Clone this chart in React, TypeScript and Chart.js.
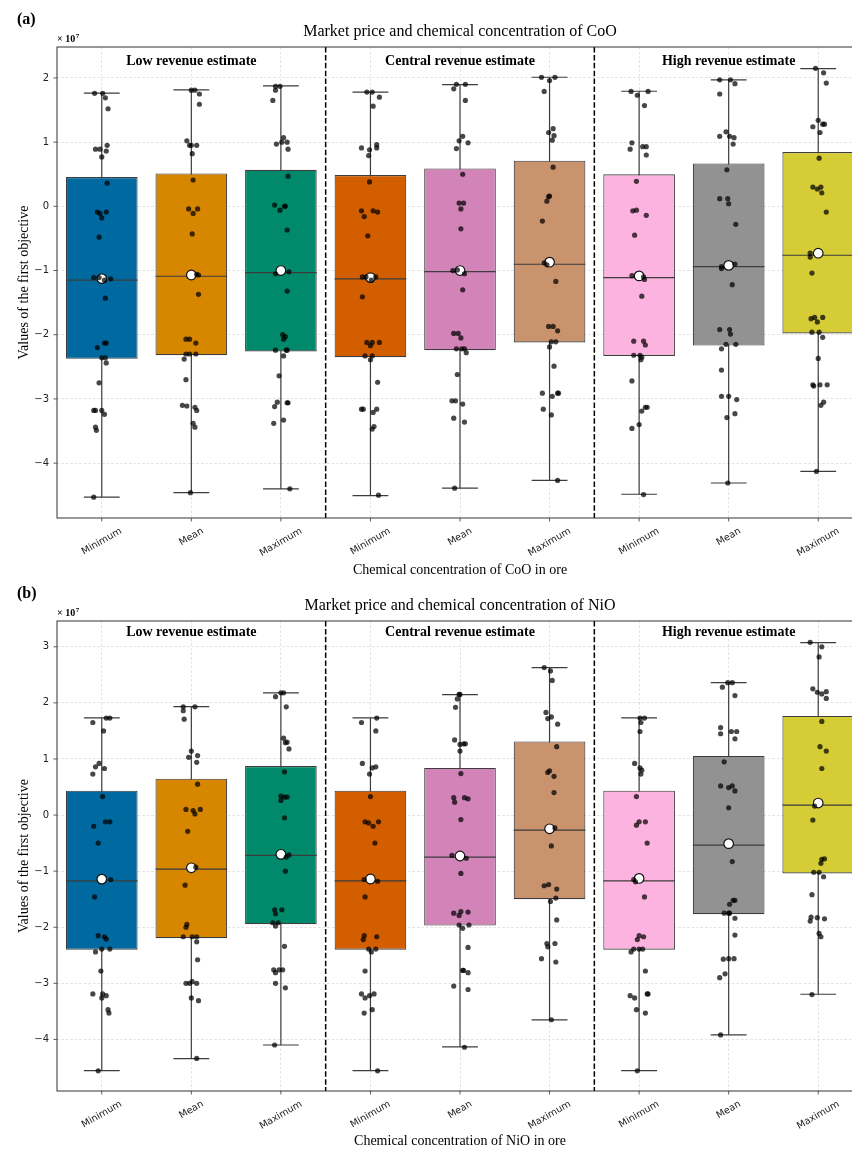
import React, { useEffect, useRef } from 'react';
import { Chart, registerables } from 'chart.js';

Chart.register(...registerables);

// ---------- shared ----------
const CATEGORIES = ['Minimum', 'Mean', 'Maximum', 'Minimum', 'Mean', 'Maximum', 'Minimum', 'Mean', 'Maximum'];
const GROUP_LABELS = ['Low revenue estimate', 'Central revenue estimate', 'High revenue estimate'];
const GROUP_CENTERS = [1, 4, 7];
const GROUP_SEPARATORS = [2.5, 5.5];
const BOX_COLORS = ['#00699F', '#D78600', '#00896A', '#D35E00', '#D283B8', '#C9936E', '#FDB3DF', '#929292', '#D5CC36'];

// ---------- panel (a): CoO ----------
const COO_TITLE = 'Market price and chemical concentration of CoO';
const COO_XLABEL = 'Chemical concentration of CoO in ore';
const COO_Y_TICKS = [-4, -3, -2, -1, 0, 1, 2];
const COO_Y_RANGE = [-4.855, 2.482];
const COO_GROUP_LABEL_Y = 2.26;
const COO_WHISKER_LOW = [-4.53, -4.46, -4.40, -4.505, -4.39, -4.27, -4.485, -4.31, -4.13];
const COO_Q1 = [-2.375, -2.318, -2.26, -2.35, -2.24, -2.12, -2.33, -2.168, -1.98];
const COO_MEDIAN = [-1.151, -1.089, -1.033, -1.131, -1.017, -0.902, -1.11, -0.939, -0.762];
const COO_MEAN = [-1.126, -1.07, -1.0, -1.11, -1.0, -0.87, -1.084, -0.92, -0.73];
const COO_Q3 = [0.456, 0.513, 0.569, 0.487, 0.59, 0.71, 0.498, 0.669, 0.845];
const COO_WHISKER_HIGH = [1.762, 1.813, 1.876, 1.778, 1.897, 2.011, 1.793, 1.969, 2.146];

// points: [jitter (category units), value (x 1e7)]
const COO_LOW_MIN = [[-0.08,1.76],[0.01,1.76],[0.04,1.69],[0.07,1.52],[-0.07,0.89],[-0.02,0.89],[0.06,0.95],[0.05,0.86],[0.0,0.77],[0.06,0.36],[-0.05,-0.09],[-0.02,-0.11],[0.05,-0.09],[0.0,-0.18],[-0.03,-0.48],[-0.09,-1.11],[-0.03,-1.11],[0.1,-1.13],[0.03,-1.15],[0.04,-1.43],[-0.05,-2.2],[0.03,-2.13],[0.05,-2.13],[0.0,-2.36],[0.04,-2.36],[0.05,-2.44],[-0.03,-2.75],[-0.09,-3.18],[-0.07,-3.18],[0.0,-3.18],[0.03,-3.24],[-0.07,-3.44],[-0.06,-3.49],[-0.09,-4.53]];
const COO_LOW_MEAN = [[0.0,1.81],[0.04,1.81],[0.09,1.75],[0.09,1.59],[-0.05,1.02],[-0.02,0.95],[0.0,0.95],[0.06,0.95],[0.01,0.82],[0.02,0.41],[-0.03,-0.04],[0.07,-0.04],[0.02,-0.11],[0.01,-0.43],[0.06,-1.06],[0.08,-1.07],[0.08,-1.37],[-0.06,-2.07],[-0.02,-2.07],[0.05,-2.13],[-0.06,-2.3],[-0.02,-2.3],[0.05,-2.3],[-0.08,-2.38],[-0.06,-2.7],[-0.1,-3.1],[-0.05,-3.11],[0.04,-3.13],[0.06,-3.18],[0.02,-3.38],[0.04,-3.44],[-0.01,-4.46]];
const COO_LOW_MAX = [[-0.06,1.87],[-0.01,1.87],[-0.06,1.81],[-0.09,1.65],[-0.05,0.97],[0.03,1.07],[0.01,1.0],[0.07,1.0],[0.08,0.89],[0.08,0.47],[-0.07,0.02],[0.04,0.0],[0.05,0.0],[-0.01,-0.06],[0.07,-0.37],[-0.06,-1.05],[0.09,-1.02],[0.07,-1.32],[0.02,-2.0],[0.05,-2.03],[0.03,-2.07],[-0.06,-2.24],[0.06,-2.24],[0.07,-2.24],[0.03,-2.33],[-0.02,-2.64],[-0.04,-3.05],[-0.07,-3.12],[0.07,-3.06],[0.08,-3.06],[-0.08,-3.38],[0.03,-3.33],[0.1,-4.4]];
const COO_CENTRAL_MIN = [[-0.04,1.78],[0.02,1.78],[0.1,1.7],[0.03,1.56],[-0.1,0.91],[0.07,0.96],[0.07,0.91],[-0.01,0.88],[-0.02,0.79],[-0.01,0.38],[-0.1,-0.07],[0.03,-0.07],[0.08,-0.09],[-0.07,-0.16],[-0.03,-0.46],[-0.09,-1.1],[-0.05,-1.1],[0.06,-1.1],[0.01,-1.15],[-0.09,-1.41],[-0.04,-2.12],[0.02,-2.12],[0.1,-2.12],[0.0,-2.17],[-0.06,-2.33],[0.02,-2.33],[0.0,-2.39],[0.08,-2.74],[-0.1,-3.16],[-0.08,-3.16],[0.07,-3.16],[0.03,-3.21],[0.04,-3.43],[0.02,-3.47],[0.09,-4.5]];
const COO_CENTRAL_MEAN = [[-0.04,1.9],[0.06,1.9],[-0.07,1.83],[0.06,1.65],[0.03,1.09],[-0.01,1.02],[0.09,0.99],[-0.04,0.9],[0.03,0.5],[-0.01,0.05],[0.04,0.05],[0.01,-0.04],[0.01,-0.35],[-0.08,-1.0],[-0.03,-0.99],[0.05,-1.05],[0.03,-1.3],[-0.07,-1.98],[-0.02,-1.98],[0.01,-2.05],[-0.04,-2.22],[0.02,-2.22],[0.05,-2.22],[0.07,-2.28],[-0.03,-2.62],[-0.09,-3.03],[-0.05,-3.03],[0.03,-3.08],[-0.07,-3.3],[0.05,-3.36],[-0.06,-4.39]];
const COO_CENTRAL_MAX = [[-0.09,2.01],[0.06,2.01],[0.0,1.96],[-0.06,1.79],[0.04,1.21],[-0.01,1.15],[0.05,1.1],[0.03,1.03],[0.04,0.61],[0.0,0.16],[-0.01,0.15],[-0.03,0.08],[-0.08,-0.23],[-0.03,-0.91],[-0.06,-0.88],[0.07,-1.17],[-0.01,-1.87],[0.04,-1.87],[0.09,-1.94],[0.02,-2.11],[0.07,-2.11],[0.0,-2.19],[0.05,-2.49],[-0.08,-2.91],[0.03,-2.96],[0.09,-2.91],[0.1,-2.91],[-0.07,-3.16],[0.02,-3.25],[0.09,-4.27]];
const COO_HIGH_MIN = [[-0.09,1.79],[0.1,1.79],[-0.02,1.73],[0.06,1.57],[-0.08,0.99],[-0.1,0.89],[0.04,0.93],[0.08,0.93],[0.08,0.8],[-0.03,0.39],[-0.07,-0.07],[-0.03,-0.06],[0.08,-0.14],[-0.05,-0.45],[-0.08,-1.08],[0.05,-1.1],[0.06,-1.14],[0.03,-1.4],[-0.06,-2.1],[0.05,-2.1],[0.07,-2.16],[-0.06,-2.32],[0.01,-2.32],[0.03,-2.35],[0.02,-2.39],[-0.08,-2.72],[0.03,-3.19],[0.07,-3.13],[0.09,-3.13],[0.0,-3.4],[-0.08,-3.46],[0.05,-4.49]];
const COO_HIGH_MEAN = [[-0.1,1.97],[0.02,1.97],[0.07,1.91],[-0.1,1.75],[-0.03,1.16],[-0.1,1.09],[0.01,1.09],[0.06,1.07],[0.05,0.97],[-0.02,0.57],[-0.1,0.12],[-0.01,0.12],[0.0,0.04],[0.08,-0.28],[-0.08,-0.94],[-0.08,-0.97],[0.07,-0.9],[0.04,-1.22],[-0.1,-1.92],[0.01,-1.92],[0.02,-1.99],[-0.03,-2.15],[0.08,-2.15],[-0.08,-2.22],[-0.08,-2.55],[-0.08,-2.96],[0.0,-2.96],[0.09,-3.01],[-0.02,-3.29],[0.07,-3.23],[-0.01,-4.31]];
const COO_HIGH_MAX = [[-0.03,2.15],[0.06,2.08],[0.09,1.92],[0.0,1.34],[-0.06,1.24],[0.05,1.28],[0.07,1.28],[0.02,1.15],[0.01,0.75],[-0.06,0.3],[-0.01,0.27],[0.03,0.3],[0.04,0.21],[0.09,-0.09],[-0.09,-0.73],[-0.09,-0.79],[-0.07,-1.04],[-0.08,-1.75],[-0.04,-1.73],[0.05,-1.73],[-0.01,-1.8],[-0.07,-1.96],[0.01,-1.96],[0.05,-2.04],[0.0,-2.37],[-0.06,-2.78],[-0.05,-2.8],[0.02,-2.78],[0.1,-2.78],[0.06,-3.05],[0.03,-3.1],[-0.02,-4.13]];

// ---------- panel (b): NiO ----------
const NIO_TITLE = 'Market price and chemical concentration of NiO';
const NIO_XLABEL = 'Chemical concentration of NiO in ore';
const NIO_Y_TICKS = [-4, -3, -2, -1, 0, 1, 2, 3];
const NIO_Y_RANGE = [-4.92, 3.46];
const NIO_GROUP_LABEL_Y = 3.25;
const NIO_WHISKER_LOW = [-4.557, -4.343, -4.10, -4.557, -4.135, -3.653, -4.557, -3.92, -3.195];
const NIO_Q1 = [-2.40, -2.195, -1.945, -2.40, -1.97, -1.499, -2.40, -1.767, -1.04];
const NIO_MEDIAN = [-1.172, -0.964, -0.72, -1.172, -0.749, -0.268, -1.172, -0.535, 0.178];
const NIO_MEAN = [-1.142, -0.94, -0.70, -1.14, -0.73, -0.245, -1.13, -0.51, 0.214];
const NIO_Q3 = [0.434, 0.648, 0.874, 0.434, 0.839, 1.313, 0.434, 1.053, 1.767];
const NIO_WHISKER_HIGH = [1.731, 1.932, 2.177, 1.731, 2.147, 2.628, 1.731, 2.361, 3.075];

const NIO_LOW_MIN = [[0.05,1.73],[0.09,1.73],[-0.1,1.65],[0.02,1.5],[-0.07,0.86],[-0.03,0.92],[0.03,0.83],[-0.1,0.73],[0.01,0.33],[0.04,-0.12],[0.09,-0.12],[-0.09,-0.2],[-0.04,-0.5],[0.1,-1.15],[-0.08,-1.46],[-0.04,-2.15],[0.03,-2.17],[0.05,-2.21],[0.0,-2.39],[0.09,-2.39],[-0.07,-2.44],[-0.01,-2.78],[-0.1,-3.19],[0.01,-3.19],[0.05,-3.22],[0.0,-3.26],[0.07,-3.47],[0.08,-3.53],[-0.04,-4.56]];
const NIO_LOW_MEAN = [[-0.09,1.93],[0.04,1.93],[-0.09,1.86],[-0.08,1.71],[0.0,1.14],[-0.03,1.03],[0.07,1.06],[0.06,0.94],[0.07,0.55],[-0.06,0.1],[0.02,0.08],[0.04,0.02],[0.1,0.1],[-0.04,-0.29],[0.05,-0.93],[-0.07,-1.25],[-0.05,-1.95],[-0.06,-2.0],[-0.09,-2.17],[0.01,-2.17],[0.06,-2.17],[0.06,-2.26],[0.07,-2.58],[-0.06,-3.0],[-0.02,-3.0],[0.01,-2.97],[0.06,-3.0],[0.0,-3.26],[0.08,-3.31],[0.06,-4.34]];
const NIO_LOW_MAX = [[0.0,2.18],[0.03,2.18],[-0.06,2.11],[0.06,1.93],[0.03,1.37],[0.05,1.29],[0.07,1.3],[0.09,1.18],[0.04,0.77],[0.0,0.34],[0.04,0.32],[0.07,0.32],[0.0,0.26],[0.04,-0.05],[0.09,-0.71],[0.06,-0.75],[0.05,-1.0],[-0.07,-1.69],[0.01,-1.69],[-0.06,-1.76],[-0.09,-1.92],[-0.03,-1.92],[-0.06,-1.98],[0.04,-2.34],[-0.08,-2.76],[-0.02,-2.76],[0.02,-2.76],[-0.06,-2.81],[-0.06,-3.0],[0.05,-3.08],[-0.07,-4.1]];
const NIO_CENTRAL_MIN = [[0.07,1.73],[-0.1,1.65],[0.06,1.5],[-0.09,0.92],[0.02,0.84],[0.06,0.86],[-0.01,0.73],[0.0,0.33],[-0.06,-0.12],[-0.02,-0.14],[0.09,-0.12],[0.03,-0.2],[0.05,-0.5],[-0.07,-1.15],[0.08,-1.18],[-0.06,-1.46],[-0.07,-2.15],[-0.08,-2.22],[0.07,-2.17],[-0.02,-2.39],[0.06,-2.39],[0.01,-2.44],[-0.06,-2.78],[-0.1,-3.19],[-0.06,-3.26],[-0.01,-3.22],[0.04,-3.19],[-0.07,-3.53],[0.02,-3.47],[0.08,-4.56]];
const NIO_CENTRAL_MEAN = [[-0.01,2.15],[0.0,2.15],[-0.03,2.07],[-0.05,1.92],[-0.06,1.34],[0.0,1.26],[0.04,1.27],[0.06,1.27],[0.0,1.14],[0.01,0.74],[-0.07,0.31],[-0.06,0.23],[0.05,0.31],[0.09,0.29],[0.01,-0.08],[-0.09,-0.72],[0.07,-0.77],[0.01,-1.04],[-0.07,-1.75],[-0.01,-1.79],[0.01,-1.72],[0.09,-1.73],[-0.01,-1.96],[0.1,-1.96],[0.03,-2.02],[0.09,-2.36],[0.03,-2.77],[0.04,-2.77],[0.09,-2.81],[-0.07,-3.05],[0.09,-3.11],[0.05,-4.14]];
const NIO_CENTRAL_MAX = [[-0.06,2.63],[0.01,2.57],[0.03,2.4],[-0.04,1.83],[-0.02,1.72],[0.02,1.75],[0.09,1.62],[0.08,1.22],[-0.02,0.76],[0.0,0.79],[0.05,0.69],[0.05,0.4],[0.06,-0.23],[0.02,-0.55],[-0.06,-1.26],[-0.01,-1.24],[0.08,-1.32],[0.07,-1.48],[0.01,-1.54],[0.08,-1.87],[-0.03,-2.29],[0.06,-2.29],[-0.02,-2.35],[-0.09,-2.56],[0.07,-2.62],[0.02,-3.65]];
const NIO_HIGH_MIN = [[0.01,1.73],[0.06,1.73],[0.02,1.65],[0.01,1.49],[-0.05,0.92],[0.01,0.84],[0.03,0.8],[0.02,0.73],[-0.03,0.33],[-0.03,-0.18],[0.0,-0.12],[0.07,-0.12],[0.09,-0.5],[-0.06,-1.15],[-0.04,-1.19],[0.06,-1.46],[-0.02,-2.22],[0.0,-2.15],[0.05,-2.17],[-0.09,-2.44],[-0.06,-2.39],[0.0,-2.39],[0.04,-2.39],[0.07,-2.78],[-0.1,-3.22],[-0.05,-3.26],[0.09,-3.19],[0.1,-3.19],[-0.03,-3.47],[0.07,-3.53],[-0.02,-4.56]];
const NIO_HIGH_MEAN = [[-0.07,2.28],[-0.01,2.36],[0.04,2.36],[0.07,2.13],[-0.09,1.56],[-0.09,1.45],[0.03,1.49],[0.09,1.49],[0.07,1.36],[-0.05,0.95],[-0.09,0.52],[0.0,0.49],[0.04,0.52],[0.07,0.43],[0.0,0.13],[0.04,-0.83],[0.01,-1.59],[0.07,-1.52],[0.05,-1.52],[-0.05,-1.75],[0.0,-1.75],[0.01,-1.75],[0.07,-1.84],[0.07,-2.14],[-0.06,-2.57],[0.0,-2.56],[0.06,-2.56],[-0.1,-2.9],[-0.04,-2.83],[-0.09,-3.92]];
const NIO_HIGH_MAX = [[-0.09,3.08],[0.04,3.0],[0.01,2.82],[-0.06,2.25],[-0.01,2.19],[0.04,2.16],[0.09,2.2],[0.09,2.08],[0.04,1.67],[0.02,1.22],[0.09,1.14],[0.04,0.83],[-0.04,0.16],[-0.06,-0.09],[0.04,-0.79],[0.07,-0.78],[0.03,-0.86],[-0.05,-1.02],[0.01,-1.02],[0.06,-1.1],[-0.07,-1.42],[-0.09,-1.89],[-0.08,-1.82],[-0.01,-1.83],[0.07,-1.85],[0.01,-2.11],[0.03,-2.17],[-0.07,-3.2]];

type Panel = {
  tag: string;
  top: number;
  height: number;
  padTop: number;
  xAxisHeight: number;
  title: string;
  xLabel: string;
  yTicks: number[];
  yRange: number[];
  groupLabelY: number;
  lo: number[]; q1: number[]; med: number[]; mean: number[]; q3: number[]; hi: number[];
  points: number[][][];
};

const PANELS: Panel[] = [
  {
    tag: '(a)', top: 0, height: 580, padTop: 47, xAxisHeight: 62,
    title: COO_TITLE, xLabel: COO_XLABEL, yTicks: COO_Y_TICKS, yRange: COO_Y_RANGE, groupLabelY: COO_GROUP_LABEL_Y,
    lo: COO_WHISKER_LOW, q1: COO_Q1, med: COO_MEDIAN, mean: COO_MEAN, q3: COO_Q3, hi: COO_WHISKER_HIGH,
    points: [COO_LOW_MIN, COO_LOW_MEAN, COO_LOW_MAX, COO_CENTRAL_MIN, COO_CENTRAL_MEAN, COO_CENTRAL_MAX, COO_HIGH_MIN, COO_HIGH_MEAN, COO_HIGH_MAX],
  },
  {
    tag: '(b)', top: 580, height: 571, padTop: 41, xAxisHeight: 60,
    title: NIO_TITLE, xLabel: NIO_XLABEL, yTicks: NIO_Y_TICKS, yRange: NIO_Y_RANGE, groupLabelY: NIO_GROUP_LABEL_Y,
    lo: NIO_WHISKER_LOW, q1: NIO_Q1, med: NIO_MEDIAN, mean: NIO_MEAN, q3: NIO_Q3, hi: NIO_WHISKER_HIGH,
    points: [NIO_LOW_MIN, NIO_LOW_MEAN, NIO_LOW_MAX, NIO_CENTRAL_MIN, NIO_CENTRAL_MEAN, NIO_CENTRAL_MAX, NIO_HIGH_MIN, NIO_HIGH_MEAN, NIO_HIGH_MAX],
  },
];

const CANVAS_W = 880;
const PLOT_LEFT = 57;
const PLOT_RIGHT_PAD = 17;
const SERIF = '"Liberation Serif", "Times New Roman", serif';
const SANS = '"DejaVu Sans", sans-serif';
const EDGE = '#3d3d3d';

const fmtTick = (v: number) => (v < 0 ? '\u2212' + Math.abs(v) : String(v));

function buildConfig(p: Panel): any {
  const idx = CATEGORIES.map((_, i) => i);
  const whiskers: any[] = [];
  const caps: any[] = [];
  const medians: any[] = [];
  idx.forEach((i) => {
    whiskers.push({ x: i, y: p.lo[i] }, { x: i, y: p.hi[i] }, { x: i + 0.5, y: null });
    caps.push({ x: i - 0.2, y: p.lo[i] }, { x: i + 0.2, y: p.lo[i] }, { x: i, y: null });
    caps.push({ x: i - 0.2, y: p.hi[i] }, { x: i + 0.2, y: p.hi[i] }, { x: i, y: null });
    medians.push({ x: i - 0.4, y: p.med[i] }, { x: i + 0.4, y: p.med[i] }, { x: i, y: null });
  });
  const pts: any[] = [];
  p.points.forEach((arr, i) => arr.forEach(([dx, v]) => pts.push({ x: i + dx, y: v })));

  const decor = {
    id: 'decor',
    afterDatasetsDraw(chart: any) {
      const { ctx, chartArea: a, scales } = chart;
      const x = scales.x, y = scales.y;
      ctx.save();
      ctx.strokeStyle = '#000';
      ctx.lineWidth = 1.5;
      ctx.setLineDash([5.5, 2.4]);
      GROUP_SEPARATORS.forEach((s) => {
        const px = x.getPixelForValue(s);
        ctx.beginPath();
        ctx.moveTo(px, a.top);
        ctx.lineTo(px, a.bottom);
        ctx.stroke();
      });
      ctx.setLineDash([]);
      ctx.fillStyle = '#000';
      ctx.font = 'bold 14px ' + SERIF;
      ctx.textAlign = 'center';
      ctx.textBaseline = 'middle';
      GROUP_LABELS.forEach((g, k) => {
        ctx.fillText(g, x.getPixelForValue(GROUP_CENTERS[k]), y.getPixelForValue(p.groupLabelY));
      });
      ctx.restore();
    },
    afterDraw(chart: any) {
      const { ctx, chartArea: a, scales } = chart;
      const x = scales.x, y = scales.y;
      ctx.save();
      ctx.strokeStyle = '#333';
      ctx.lineWidth = 1;
      ctx.strokeRect(a.left, a.top, a.right - a.left, a.bottom - a.top);
      ctx.lineWidth = 0.8;
      y.ticks.forEach((t: any) => {
        const py = y.getPixelForValue(t.value);
        ctx.beginPath(); ctx.moveTo(a.left - 3.5, py); ctx.lineTo(a.left, py); ctx.stroke();
      });
      x.ticks.forEach((t: any) => {
        const px = x.getPixelForValue(t.value);
        ctx.beginPath(); ctx.moveTo(px, a.bottom); ctx.lineTo(px, a.bottom + 3.5); ctx.stroke();
      });
      ctx.fillStyle = '#222';
      ctx.font = '9.6px ' + SANS;
      ctx.textAlign = 'center';
      ctx.textBaseline = 'middle';
      CATEGORIES.forEach((lab, i) => {
        const px = x.getPixelForValue(i);
        const w = ctx.measureText(lab).width;
        const bh = w * 0.5 + 10 * 0.866;
        const cy = a.bottom + 8 + bh / 2;
        ctx.save();
        ctx.translate(px, cy);
        ctx.rotate(-Math.PI / 6);
        ctx.fillText(lab, 0, 0);
        ctx.restore();
      });
      ctx.fillStyle = '#000';
      ctx.font = '16px ' + SERIF;
      ctx.fillText(p.title, (a.left + a.right) / 2, a.top - 15);
      ctx.textAlign = 'left';
      ctx.font = 'bold 16px ' + SERIF;
      ctx.fillText(p.tag, 17, a.top - 27);
      ctx.font = 'bold 10px ' + SERIF;
      const base = '\u00d7 10';
      ctx.fillText(base, a.left, a.top - 8);
      const bw = ctx.measureText(base).width;
      ctx.font = 'bold 7px ' + SERIF;
      ctx.fillText('7', a.left + bw + 0.5, a.top - 11);
      ctx.restore();
    },
  };

  const gridCommon = {
    color: 'rgba(0,0,0,0.16)',
    lineWidth: 0.7,
    drawTicks: false,
  };

  return {
    type: 'bar',
    data: {
      datasets: [
        { type: 'line', data: whiskers, borderColor: EDGE, borderWidth: 1.2, pointRadius: 0, spanGaps: false, fill: false, order: 6 },
        { type: 'line', data: caps, borderColor: EDGE, borderWidth: 1.2, pointRadius: 0, spanGaps: false, fill: false, order: 6 },
        {
          type: 'bar',
          data: idx.map((i) => ({ x: i, y: [p.q1[i], p.q3[i]] })),
          backgroundColor: BOX_COLORS,
          borderColor: EDGE,
          borderWidth: 1.1,
          borderSkipped: false,
          barPercentage: 0.8,
          categoryPercentage: 1,
          grouped: false,
          order: 5,
        },
        { type: 'line', data: medians, borderColor: EDGE, borderWidth: 1.2, pointRadius: 0, spanGaps: false, fill: false, order: 4 },
        {
          type: 'scatter',
          data: idx.map((i) => ({ x: i, y: p.mean[i] })),
          pointRadius: 4.8,
          pointBackgroundColor: '#fff',
          pointBorderColor: '#111',
          pointBorderWidth: 1.2,
          order: 3,
        },
        {
          type: 'scatter',
          data: pts,
          pointRadius: 2.6,
          pointBackgroundColor: 'rgba(0,0,0,0.72)',
          pointBorderWidth: 0,
          order: 2,
        },
      ],
    },
    options: {
      responsive: false,
      animation: false,
      events: [],
      layout: { padding: { left: 0, top: p.padTop, right: PLOT_RIGHT_PAD, bottom: 0 } },
      plugins: { legend: { display: false }, tooltip: { enabled: false }, title: { display: false } },
      scales: {
        x: {
          type: 'linear',
          min: -0.5,
          max: CATEGORIES.length - 0.5,
          offset: false,
          grid: { ...gridCommon, offset: false },
          border: { display: false, dash: [2.5, 2] },
          ticks: { display: false },
          afterBuildTicks: (s: any) => { s.ticks = CATEGORIES.map((_, i) => ({ value: i })); },
          afterFit: (s: any) => { s.height = p.xAxisHeight; },
          title: {
            display: true, text: p.xLabel, color: '#000',
            font: { family: SERIF, size: 14 }, padding: { top: 0, bottom: 1 },
          },
        },
        y: {
          type: 'linear',
          min: p.yRange[0],
          max: p.yRange[1],
          grid: { ...gridCommon },
          border: { display: false, dash: [2.5, 2] },
          afterBuildTicks: (s: any) => { s.ticks = p.yTicks.map((v) => ({ value: v })); },
          afterFit: (s: any) => { s.width = PLOT_LEFT; },
          ticks: {
            color: '#222', padding: 8,
            font: { family: SANS, size: 10 },
            callback: (v: any) => fmtTick(Number(v)),
          },
          title: {
            display: true, text: 'Values of the first objective', color: '#000',
            font: { family: SERIF, size: 14 }, padding: { top: 16, bottom: 0 },
          },
        },
      },
    },
    plugins: [decor],
  };
}

function PanelChart({ panel }: { panel: Panel }) {
  const ref = useRef<HTMLCanvasElement | null>(null);
  useEffect(() => {
    if (!ref.current) return;
    const chart = new Chart(ref.current, buildConfig(panel));
    return () => chart.destroy();
  }, [panel]);
  return (
    <canvas
      ref={ref}
      width={CANVAS_W}
      height={panel.height}
      style={{ position: 'absolute', left: 0, top: panel.top, width: CANVAS_W, height: panel.height, display: 'block' }}
    />
  );
}

export default function App() {
  return (
    <div style={{ position: 'absolute', left: 0, top: 0, width: 852, height: 1151, overflow: 'hidden', background: '#fff' }}>
      {PANELS.map((p) => (
        <PanelChart key={p.tag} panel={p} />
      ))}
    </div>
  );
}
